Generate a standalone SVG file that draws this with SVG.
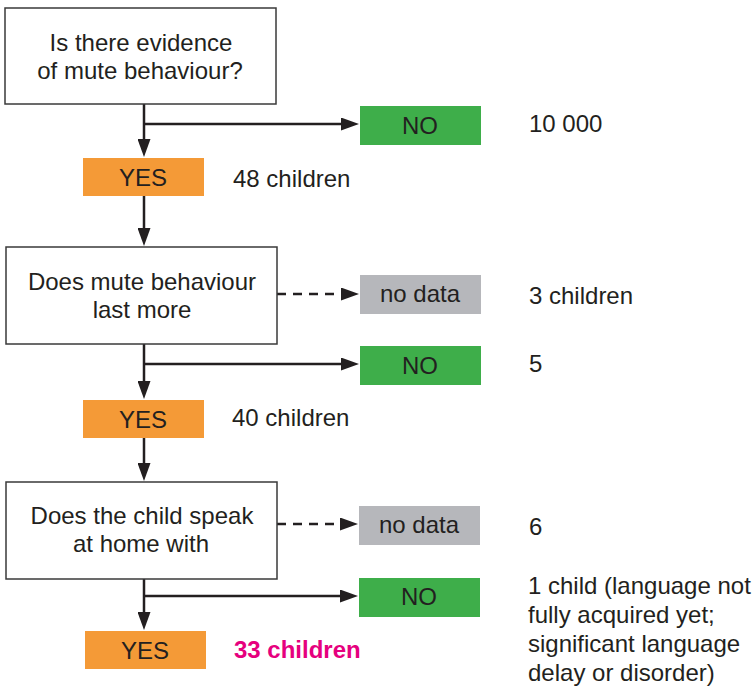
<svg xmlns="http://www.w3.org/2000/svg" width="753" height="686" viewBox="0 0 753 686">
<defs>
<marker id="ah" viewBox="0 0 18 13" refX="10" refY="6.5" markerWidth="18" markerHeight="13" markerUnits="userSpaceOnUse" orient="auto">
<path d="M0,0 L18,6.5 L0,13 z" fill="#231F20"/>
</marker>
<style>
text{font-family:"Liberation Sans",Arial,sans-serif;font-size:24px;fill:#231F20}
.c{text-anchor:middle}
.q{fill:#fff;stroke:#3a3a3a;stroke-width:1.5}
.yes{fill:#F49A37}
.no{fill:#3EAE4A}
.nd{fill:#B6B7BB}
.ln{fill:none;stroke:#231F20;stroke-width:2.5;marker-end:url(#ah)}
.dash{stroke-dasharray:9 7}
.hl{font-weight:bold;fill:#E6007E}
</style>
</defs>
<g id="connectors">
<path class="ln" d="M144,104 V149"/>
<path class="ln" d="M144,124 H351"/>
<path class="ln" d="M144,196 V238"/>
<path class="ln dash" d="M277,294 H351"/>
<path class="ln" d="M144,344 V391"/>
<path class="ln" d="M144,364 H351"/>
<path class="ln" d="M144,438 V473"/>
<path class="ln dash" d="M277,524 H350"/>
<path class="ln" d="M144,579 V622"/>
<path class="ln" d="M144,596 H350"/>
</g>
<g id="q1"><rect class="q" x="5" y="8" width="271" height="96"/><text class="c" x="141" y="51">Is there evidence</text><text class="c" x="140" y="79">of mute behaviour?</text></g>
<g id="no1"><rect class="no" x="360" y="106" width="121" height="39"/><text class="c" x="420" y="134">NO</text></g>
<g id="n1"><text x="529" y="132">10 000</text></g>
<g id="yes1"><rect class="yes" x="83" y="158" width="121" height="38"/><text class="c" x="143" y="186">YES</text></g>
<g id="c1"><text x="233" y="187">48 children</text></g>
<g id="q2"><rect class="q" x="6" y="247" width="271" height="97"/><text class="c" x="142" y="290">Does mute behaviour</text><text class="c" x="142" y="318">last more</text></g>
<g id="nd1"><rect class="nd" x="360" y="275" width="121" height="39"/><text class="c" x="420" y="302">no data</text></g>
<g id="c2"><text x="529" y="304">3 children</text></g>
<g id="no2"><rect class="no" x="360" y="346" width="121" height="39"/><text class="c" x="420" y="374">NO</text></g>
<g id="n2"><text x="529" y="372">5</text></g>
<g id="yes2"><rect class="yes" x="83" y="400" width="121" height="38"/><text class="c" x="143" y="428">YES</text></g>
<g id="c3"><text x="232" y="426">40 children</text></g>
<g id="q3"><rect class="q" x="6" y="482" width="271" height="97"/><text class="c" x="142" y="524">Does the child speak</text><text class="c" x="141" y="552">at home with</text></g>
<g id="nd2"><rect class="nd" x="359" y="506" width="121" height="39"/><text class="c" x="419" y="533">no data</text></g>
<g id="n3"><text x="529" y="535">6</text></g>
<g id="no3"><rect class="no" x="359" y="578" width="121" height="39"/><text class="c" x="419" y="605">NO</text></g>
<g id="n4"><text x="528" y="594">1 child (language not</text><text x="528" y="623">fully acquired yet;</text><text x="528" y="652">significant language</text><text x="528" y="681">delay or disorder)</text></g>
<g id="yes3"><rect class="yes" x="85" y="631" width="121" height="38"/><text class="c" x="145" y="659">YES</text></g>
<g id="c4"><text class="hl" x="234" y="658">33 children</text></g>
</svg>
